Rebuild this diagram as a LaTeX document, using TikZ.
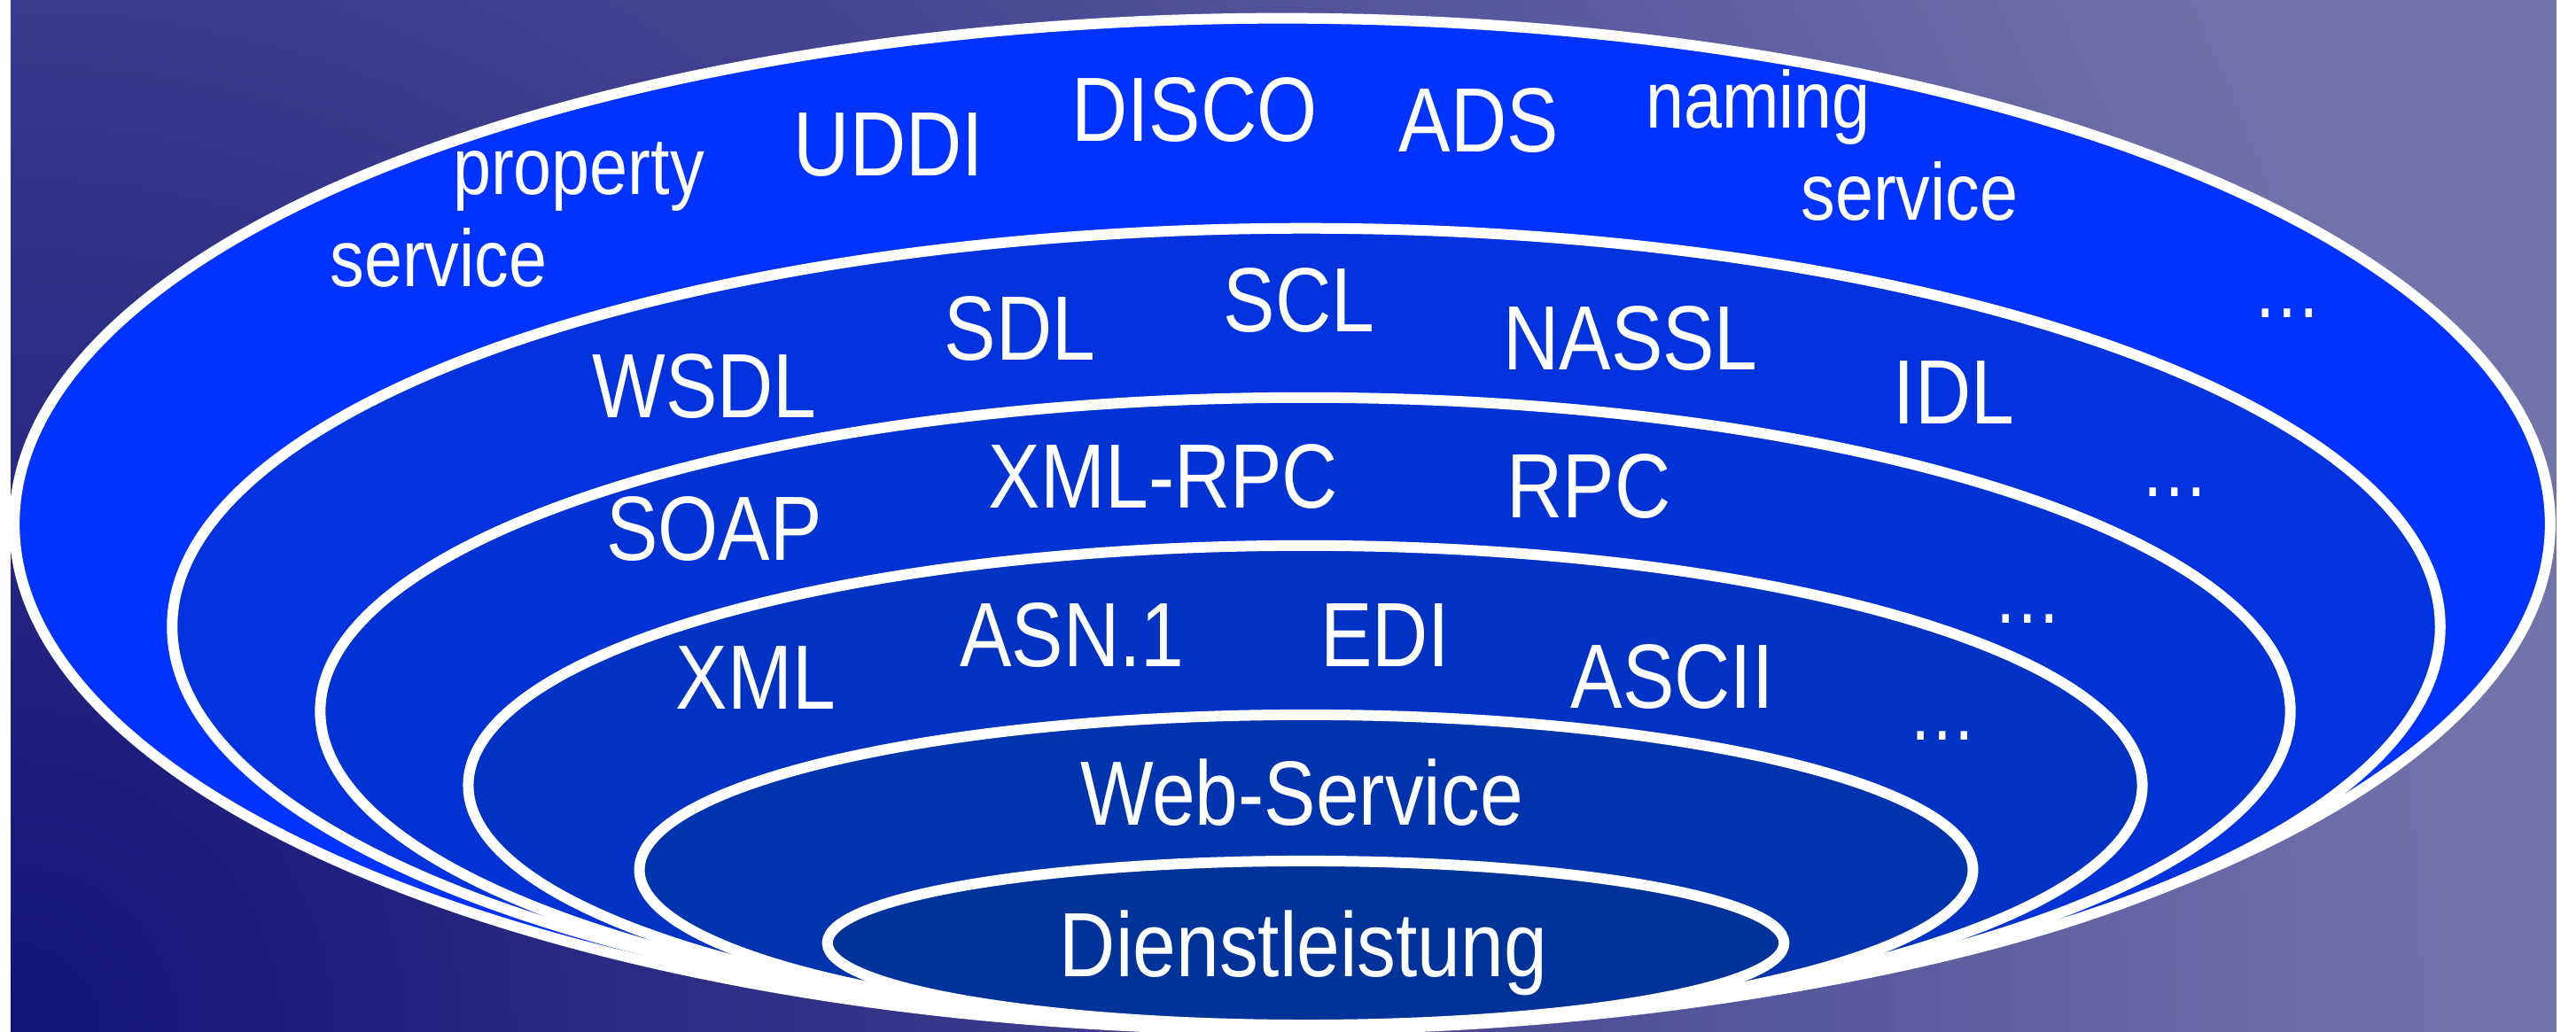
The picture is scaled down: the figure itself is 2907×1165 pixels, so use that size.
\documentclass[tikz,border=0pt]{standalone}
\usepackage{fontspec}
\setmainfont{Liberation Sans}[FakeStretch=0.85]
\definecolor{bgin}{HTML}{131277}
\definecolor{bgout}{HTML}{7373AB}
\definecolor{ringA}{HTML}{0033FF}
\definecolor{ringB}{HTML}{0033DD}
\definecolor{ringC}{HTML}{0032D4}
\definecolor{ringD}{HTML}{0033C4}
\definecolor{ringE}{HTML}{0033AE}
\definecolor{ringF}{HTML}{003399}
\begin{document}
\begin{tikzpicture}[x=0.01cm,y=0.01cm,
  ring/.style={draw=white,line width=0.12cm},
  big/.style={text=white,anchor=base,inner sep=0pt,font=\fontsize{29.3pt}{32pt}\selectfont},
  small/.style={text=white,anchor=base,inner sep=0pt,font=\fontsize{25.9pt}{28pt}\selectfont}]
\useasboundingbox (0,0) rectangle (2907,1165);
\fill[white] (0,0) rectangle (2907,1165);
\begin{scope}
  \clip (12,0) rectangle (2885,1165);
  \fill[bgout] (12,0) rectangle (2885,1165);
  \shade[inner color=bgin,outer color=bgout] (12,0) circle (28cm);
\end{scope}
% nested rings
\draw[ring,fill=ringA] (1447,573.5) ellipse [x radius=14.30cm, y radius=5.705cm];
\draw[ring,fill=ringB] (1474,457.5) ellipse [x radius=12.79cm, y radius=4.495cm];
\draw[ring,fill=ringC] (1473,362) ellipse [x radius=11.11cm, y radius=3.54cm];
\draw[ring,fill=ringD] (1473,278.5) ellipse [x radius=9.44cm, y radius=2.705cm];
\draw[ring,fill=ringE] (1474,183) ellipse [x radius=7.52cm, y radius=1.75cm];
\draw[ring,fill=ringF] (1473.5,100.5) ellipse [x radius=5.395cm, y radius=0.925cm];
% outer ring labels
\node[small] (prop) at (653,945) {property};
\node[small] (servl) at (495,841) {service};
\node[big] (uddi) at (1003,966) {UDDI};
\node[big] (disco) at (1348,1005) {DISCO};
\node[big] (ads) at (1669,993) {ADS};
\node[small] (naming) at (1984,1020) {naming};
\node[small] (servr) at (2155,916) {service};
\node[small] (dotsa) at (2581,806) {…};
% description ring
\node[big] (wsdl) at (795,693) {WSDL};
\node[big] (sdl) at (1151,758) {SDL};
\node[big] (scl) at (1466,790) {SCL};
\node[big] (nassl) at (1840,747) {NASSL};
\node[big] (idl) at (2205,686) {IDL};
\node[small] (dotsb) at (2454,604) {…};
% protocol ring
\node[big] (soap) at (806,532) {SOAP};
\node[big] (xmlrpc) at (1313,591) {XML-RPC};
\node[big] (rpc) at (1793,580) {RPC};
\node[small] (dotsc) at (2288,461) {…};
% format ring
\node[big] (xml) at (853,364) {XML};
\node[big] (asn) at (1210,412) {ASN.1};
\node[big] (edi) at (1563,412) {EDI};
\node[big] (ascii) at (1887,365) {ASCII};
\node[small] (dotsd) at (2192,329) {…};
% core
\node[big] (web) at (1469,233) {Web-Service};
\node[big] (dienst) at (1471,62) {Dienstleistung};
\end{tikzpicture}
\end{document}
